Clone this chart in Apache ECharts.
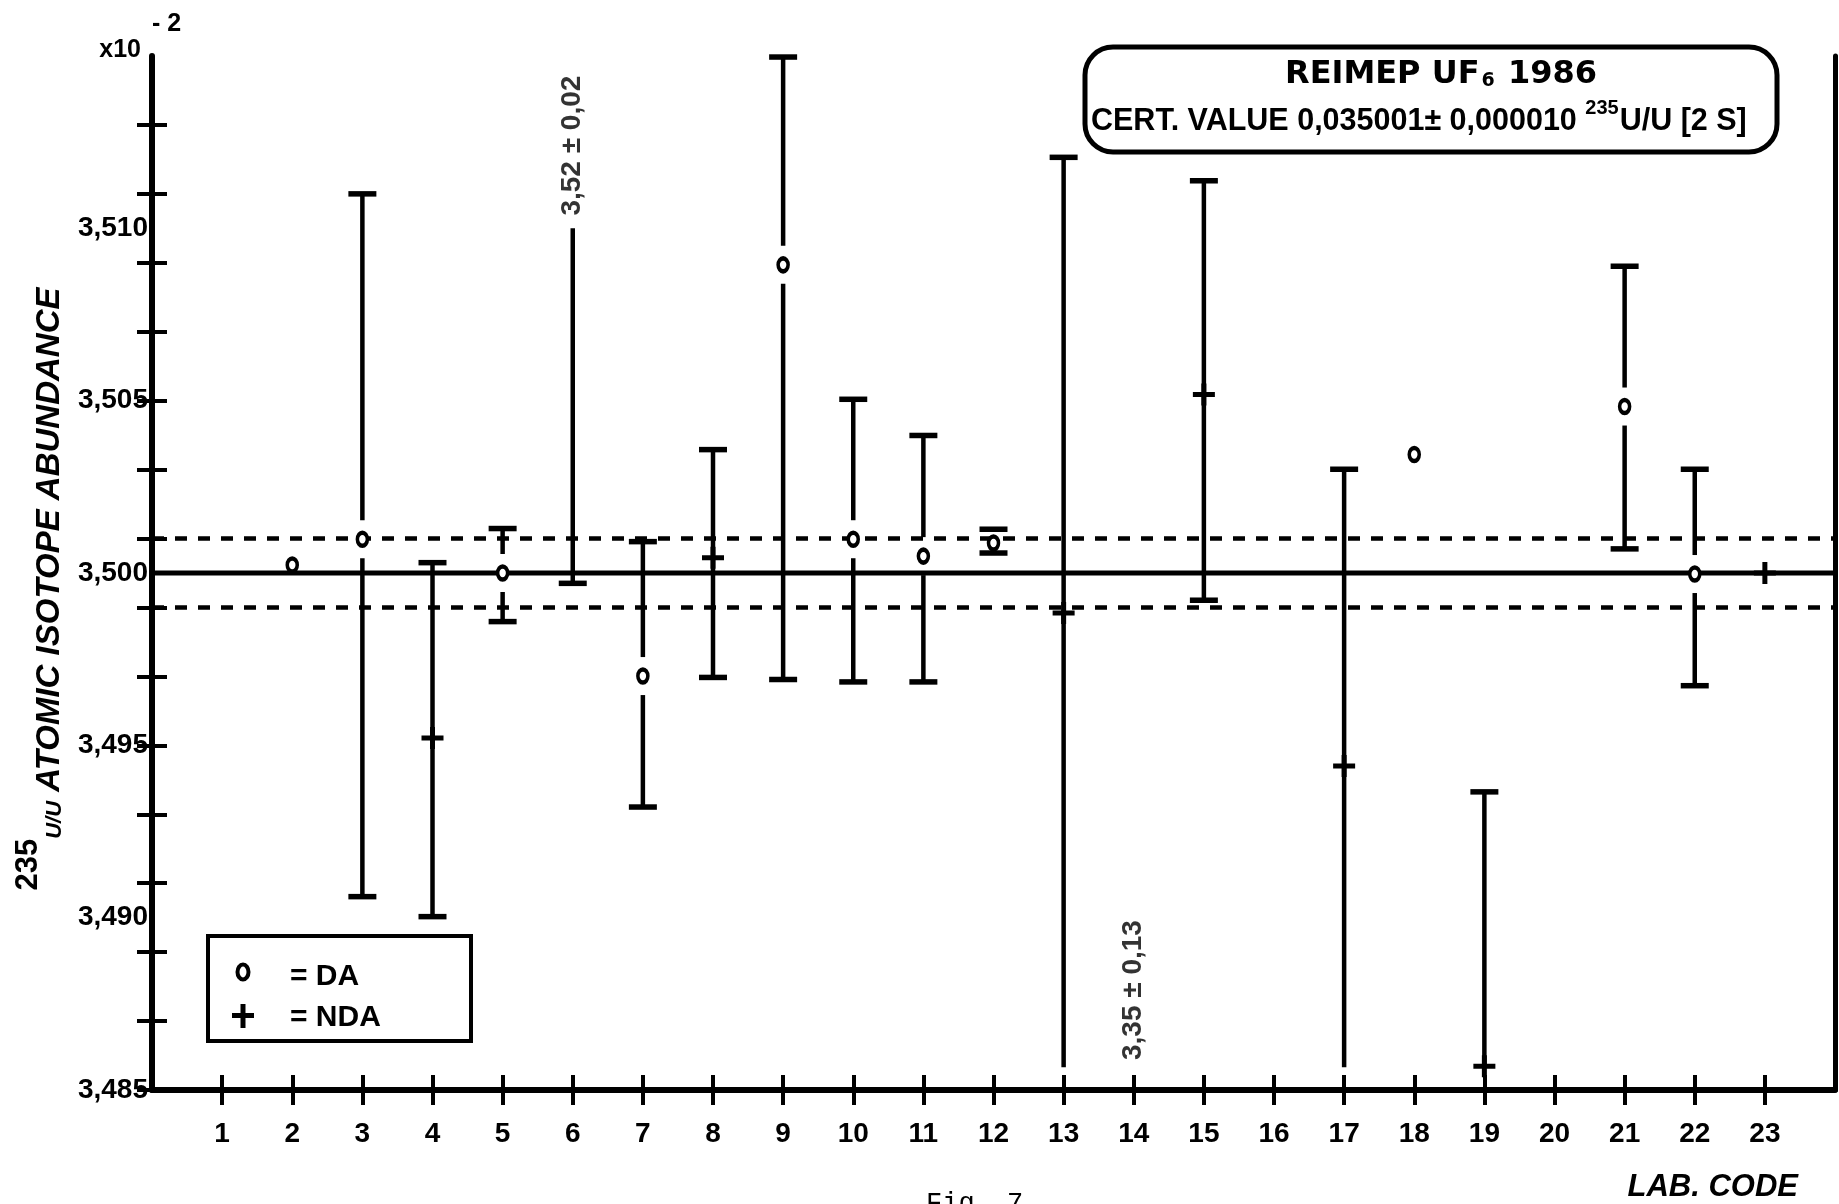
<!DOCTYPE html>
<html>
<head>
<meta charset="utf-8">
<script src="https://cdn.jsdelivr.net/npm/echarts@6/dist/echarts.min.js"></script>
<style>html,body{margin:0;padding:0;background:#fff}#c{width:1839px;height:1204px}</style>
</head>
<body>
<div id="c"></div>
<script>
// ---------- data ----------
const labCodes = [1,2,3,4,5,6,7,8,9,10,11,12,13,14,15,16,17,18,19,20,21,22,23];
const yLabelValues = [3.485, 3.490, 3.495, 3.500, 3.505, 3.510];
const yLabelTexts  = ['3,485', '3,490', '3,495', '3,500', '3,505', '3,510'];
const yTickValues  = [3.485, 3.487, 3.489, 3.491, 3.493, 3.495, 3.497, 3.499, 3.501, 3.503, 3.505, 3.507, 3.509, 3.511, 3.513];

// DA = o , NDA = +
const daLabs   = [2, 3, 5, 7, 9, 10, 11, 12, 18, 21, 22];
const daValues = [3.50023, 3.50098, 3.50000, 3.49701, 3.50894, 3.50098, 3.50049, 3.50087, 3.50344, 3.50483, 3.49997];
const ndaLabs   = [4, 8, 13, 15, 17, 19, 23];
const ndaValues = [3.49521, 3.50044, 3.49884, 3.50518, 3.49440, 3.48569, 3.50000];

// uncertainty bars
const errLabs    = [3, 4, 5, 6, 7, 8, 9, 10, 11, 12, 13, 15, 17, 19, 21, 22];
const errHigh    = [3.51100, 3.50030, 3.50129, 3.51000, 3.50091, 3.50358, 3.51497, 3.50504, 3.50399, 3.50127, 3.51206, 3.51138, 3.50301, 3.49365, 3.50890, 3.50301];
const errLow     = [3.49061, 3.49003, 3.49859, 3.49970, 3.49321, 3.49697, 3.49691, 3.49684, 3.49684, 3.50058, 3.48566, 3.49921, 3.48566, 3.48569, 3.50070, 3.49673];
const errHighCap = [1, 1, 1, 0, 1, 1, 1, 1, 1, 1, 1, 1, 1, 1, 1, 1];
const errLowCap  = [1, 1, 1, 1, 1, 1, 1, 1, 1, 1, 0, 1, 0, 0, 1, 1];

// off-scale results
const offLabs   = [6, 14];
const offTexts  = ['3,52 ± 0,02', '3,35 ± 0,13'];
const offTextAt = [3.5124, 3.4879];

// certified value and band
const certValue = 3.5000;
const certBand  = 0.0010;
const xExtent   = [0, 24];

// ---------- styling ----------
const FONT = '"Liberation Sans", Arial, Helvetica, sans-serif';
const GAP = 19;   // px gap of the bar around an "o" marker
const CAP = 28;   // px cap width
const PLUS = 'path://M0,8.5 L22,8.5 L22,13.5 L0,13.5 Z M8.5,0 L13.5,0 L13.5,22 L8.5,22 Z';

const errData = errLabs.map((lab, i) => {
  const d = daLabs.indexOf(lab);
  return [lab, errLow[i], errHigh[i], errLowCap[i], errHighCap[i], d >= 0 ? daValues[d] : 0, d >= 0 ? 1 : 0];
});

const chart = echarts.init(document.getElementById('c'), null, {renderer: 'canvas'});

const yLabelFmt = v => {
  const i = yLabelValues.findIndex(t => Math.abs(t - v) < 1e-7);
  return i >= 0 ? yLabelTexts[i] : '';
};

const hLine = (name, v, width, type) => ({
  type: 'line', name: name, xAxisIndex: 0, yAxisIndex: 0, z: 2, silent: true,
  symbol: 'none', showSymbol: false,
  lineStyle: { color: '#000', width: width, type: type },
  data: [[xExtent[0], v], [xExtent[1], v]]
});

const option = {
  animation: false,
  backgroundColor: '#fff',
  grid: { left: 152, right: 4, top: 56, bottom: 114, containLabel: false, outerBoundsMode: 'none' },
  xAxis: [
    {
      type: 'value', min: xExtent[0], max: xExtent[1], position: 'bottom',
      axisLine: { show: true, onZero: false, lineStyle: { color: '#000', width: 6 } },
      axisTick: { show: true, inside: false, length: 15, customValues: labCodes, lineStyle: { color: '#000', width: 4 } },
      axisLabel: { show: true, customValues: labCodes, margin: 30, color: '#000', fontFamily: FONT, fontSize: 28, fontWeight: 'bold', formatter: v => String(v) },
      splitLine: { show: false },
      name: 'LAB. CODE', nameLocation: 'end', nameGap: -37,
      nameTextStyle: { color: '#000', fontFamily: FONT, fontSize: 31, fontWeight: 'bold', fontStyle: 'italic', align: 'right', verticalAlign: 'top', padding: [82, 0, 0, 0] }
    },
    {
      type: 'value', min: xExtent[0], max: xExtent[1], position: 'bottom',
      axisLine: { show: false, onZero: false },
      axisTick: { show: true, inside: true, length: 15, customValues: labCodes, lineStyle: { color: '#000', width: 4 } },
      axisLabel: { show: false }, splitLine: { show: false }
    }
  ],
  yAxis: [
    {
      type: 'value', min: 3.485, max: 3.515, position: 'left',
      axisLine: { show: true, onZero: false, lineStyle: { color: '#000', width: 6 } },
      axisTick: { show: true, inside: false, length: 15, customValues: yTickValues, lineStyle: { color: '#000', width: 4 } },
      axisLabel: { show: true, customValues: yLabelValues, margin: 4, color: '#000', fontFamily: FONT, fontSize: 28, fontWeight: 'bold', formatter: yLabelFmt },
      splitLine: { show: false },
      name: '{sup|235}{sm|U/U}{m| ATOMIC ISOTOPE ABUNDANCE}',
      nameLocation: 'middle', nameRotate: 90, nameGap: 86,
      nameTextStyle: {
        color: '#000', fontFamily: FONT, fontSize: 33, fontWeight: 'bold', fontStyle: 'italic', padding: [0, 32, 0, 0],
        rich: {
          sup: { color: '#000', fontFamily: FONT, fontSize: 31, fontWeight: 'bold', fontStyle: 'normal', lineHeight: 31, padding: [0, 0, 22, 0], verticalAlign: 'bottom' },
          sm:  { color: '#000', fontFamily: FONT, fontSize: 22, fontWeight: 'bold', fontStyle: 'italic', lineHeight: 25, verticalAlign: 'bottom' },
          m:   { color: '#000', fontFamily: FONT, fontSize: 33, fontWeight: 'bold', fontStyle: 'italic', lineHeight: 31, verticalAlign: 'bottom' }
        }
      }
    },
    {
      type: 'value', min: 3.485, max: 3.515, position: 'left',
      axisLine: { show: false, onZero: false },
      axisTick: { show: true, inside: true, length: 15, customValues: yTickValues, lineStyle: { color: '#000', width: 4 } },
      axisLabel: { show: false }, splitLine: { show: false }
    },
    {
      type: 'value', min: 3.485, max: 3.515, position: 'right',
      axisLine: { show: true, onZero: false, lineStyle: { color: '#000', width: 5 } },
      axisTick: { show: false }, axisLabel: { show: false }, splitLine: { show: false }
    }
  ],
  series: [
    hLine('certified value', certValue, 5, 'solid'),
    hLine('upper limit', certValue + certBand, 4.5, [12, 11]),
    hLine('lower limit', certValue - certBand, 4.5, [12, 11]),
    {
      type: 'custom', name: 'uncertainty', xAxisIndex: 0, yAxisIndex: 0, z: 3, clip: false,
      encode: { x: 0, y: [1, 2] },
      data: errData,
      renderItem: function (params, api) {
        const x = api.value(0);
        const top = api.coord([x, api.value(2)]);
        const bot = api.coord([x, api.value(1)]);
        const cx = top[0];
        const kids = [];
        const vs = { stroke: '#000', lineWidth: 4.5 };
        const cs = { stroke: '#000', lineWidth: 5.5 };
        const addV = (y1, y2) => { if (y2 - y1 > 1) kids.push({ type: 'line', shape: { x1: cx, y1: y1, x2: cx, y2: y2 }, style: vs }); };
        if (api.value(6)) {
          const m = api.coord([x, api.value(5)])[1];
          addV(top[1], m - GAP);
          addV(m + GAP, bot[1]);
        } else {
          addV(top[1], bot[1]);
        }
        if (api.value(4)) kids.push({ type: 'line', shape: { x1: cx - CAP / 2, y1: top[1], x2: cx + CAP / 2, y2: top[1] }, style: cs });
        if (api.value(3)) kids.push({ type: 'line', shape: { x1: cx - CAP / 2, y1: bot[1], x2: cx + CAP / 2, y2: bot[1] }, style: cs });
        return { type: 'group', children: kids };
      }
    },
    {
      type: 'scatter', name: 'DA', xAxisIndex: 0, yAxisIndex: 0, z: 5,
      symbol: 'circle', symbolSize: [10, 13],
      itemStyle: { color: '#fff', borderColor: '#000', borderWidth: 4, opacity: 1 },
      data: daLabs.map((l, i) => [l, daValues[i]])
    },
    {
      type: 'scatter', name: 'NDA', xAxisIndex: 0, yAxisIndex: 0, z: 5,
      symbol: PLUS, symbolSize: [22, 22],
      itemStyle: { color: '#000', opacity: 1 },
      data: ndaLabs.map((l, i) => [l, ndaValues[i]])
    },
    {
      type: 'scatter', name: 'off-scale', xAxisIndex: 0, yAxisIndex: 0, z: 6,
      symbol: 'circle', symbolSize: 2, itemStyle: { color: 'rgba(0,0,0,0)' },
      label: {
        show: true, position: 'inside', rotate: 90, color: '#000', fontFamily: FONT, fontSize: 28, fontWeight: 'bold',
        formatter: p => offTexts[p.dataIndex]
      },
      data: offLabs.map((l, i) => [l, offTextAt[i]])
    }
  ],
  graphic: [
    { type: 'rect', z: 10, shape: { x: 1085, y: 47, width: 692, height: 105, r: 28 }, style: { fill: '#fff', stroke: '#000', lineWidth: 5 } },
    { type: 'text', z: 11, x: 1441, y: 74, style: {
        text: '{a|REIMEP UF}{s|6}{a| 1986}', fill: '#000', textAlign: 'center', textVerticalAlign: 'middle',
        rich: {
          a: { fontFamily: '"DejaVu Sans", sans-serif', fontSize: 32, fontWeight: 'bold', lineHeight: 34, verticalAlign: 'bottom', fill: '#000' },
          s: { fontFamily: '"DejaVu Sans", sans-serif', fontSize: 19, fontWeight: 'bold', lineHeight: 20, padding: [16, 2, 0, 2], verticalAlign: 'bottom', fill: '#000' }
        } } },
    { type: 'text', z: 11, x: 1091, y: 121, style: {
        text: '{t|CERT. VALUE 0,035001± 0,000010 }{u|235}{t|U/U [2 S]}', fill: '#000', textAlign: 'left', textVerticalAlign: 'middle',
        rich: {
          t: { fontFamily: FONT, fontSize: 30.5, fontWeight: 'bold', lineHeight: 32, verticalAlign: 'bottom', fill: '#000' },
          u: { fontFamily: FONT, fontSize: 20, fontWeight: 'bold', lineHeight: 21, padding: [0, 1, 19, 0], verticalAlign: 'bottom', fill: '#000' }
        } } },
    { type: 'rect', z: 10, shape: { x: 208, y: 936, width: 263, height: 105 }, style: { fill: '#fff', stroke: '#000', lineWidth: 4 } },
    { type: 'ellipse', z: 11, shape: { cx: 243, cy: 972, rx: 5.5, ry: 7.5 }, style: { fill: '#fff', stroke: '#000', lineWidth: 4 } },
    { type: 'rect', z: 11, shape: { x: 232, y: 1013, width: 22, height: 5 }, style: { fill: '#000' } },
    { type: 'rect', z: 11, shape: { x: 240.5, y: 1004, width: 5, height: 24 }, style: { fill: '#000' } },
    { type: 'text', z: 11, x: 290, y: 977, style: { text: '= DA', fill: '#000', font: 'bold 30px "Liberation Sans", Arial, sans-serif', textVerticalAlign: 'middle' } },
    { type: 'text', z: 11, x: 290, y: 1018, style: { text: '= NDA', fill: '#000', font: 'bold 30px "Liberation Sans", Arial, sans-serif', textVerticalAlign: 'middle' } },
    { type: 'text', z: 11, x: 141, y: 63, style: { text: 'x10', fill: '#000', font: 'bold 25px "Liberation Sans", Arial, sans-serif', textAlign: 'right', textVerticalAlign: 'bottom' } },
    { type: 'text', z: 11, x: 152, y: 12, style: { text: '- 2', fill: '#000', font: 'bold 25px "Liberation Sans", Arial, sans-serif', textAlign: 'left', textVerticalAlign: 'top' } },
    { type: 'text', z: 11, x: 926, y: 1190, style: { text: 'Fig. 7', fill: '#000', font: '27px "Liberation Mono", "DejaVu Sans Mono", monospace', textAlign: 'left', textVerticalAlign: 'top' } }
  ]
};

chart.setOption(option);
</script>
</body>
</html>
